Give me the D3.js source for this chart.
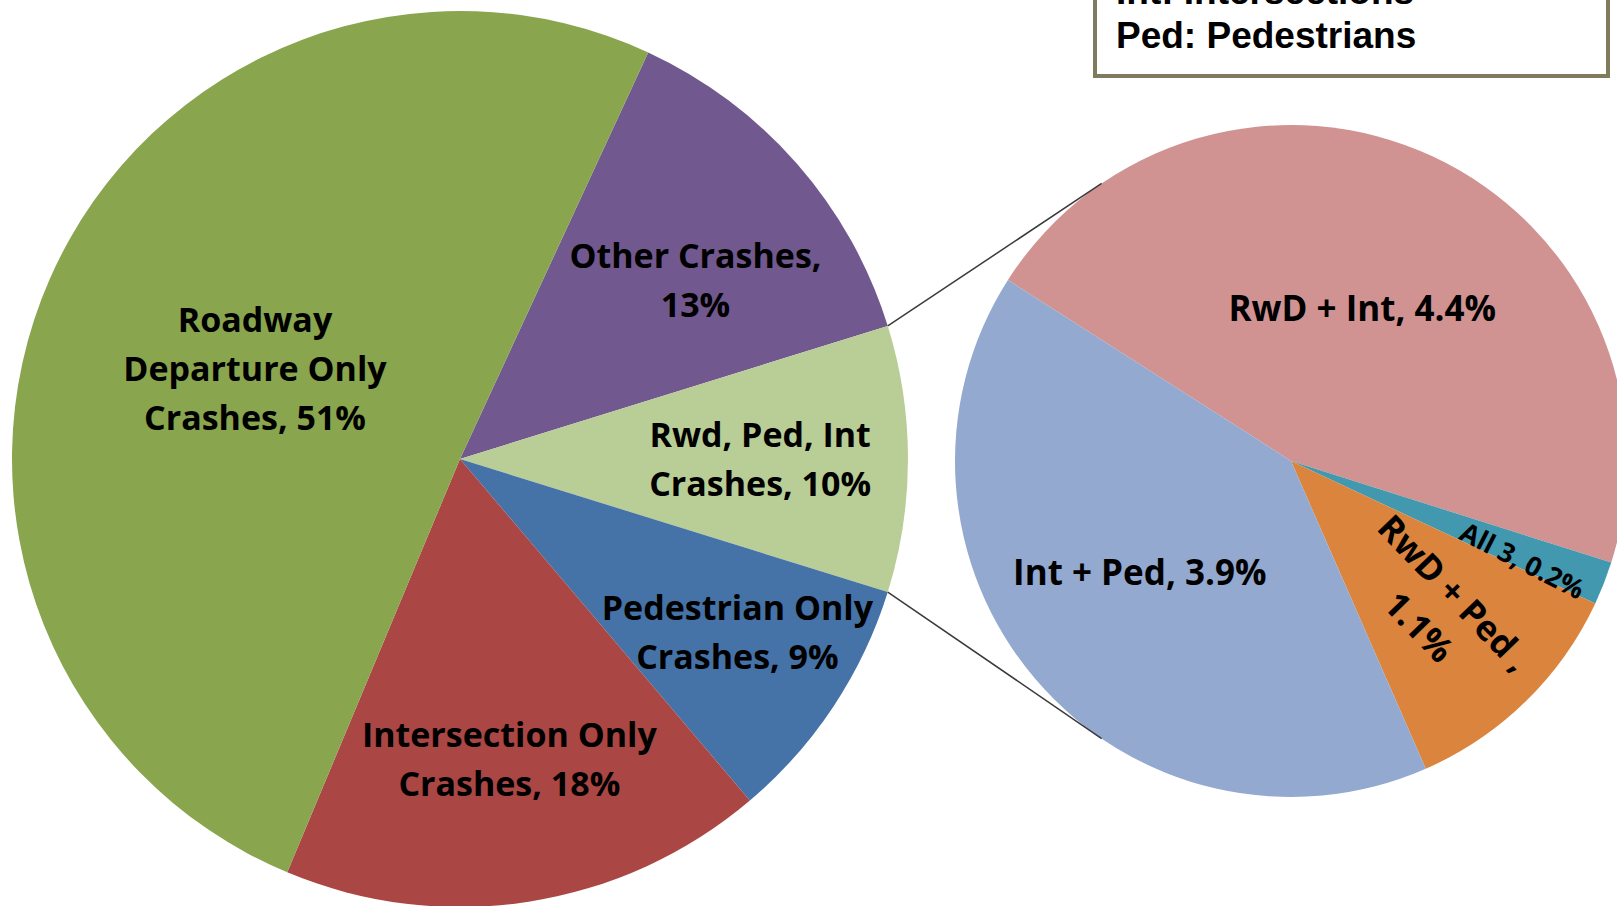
<!DOCTYPE html>
<html>
<head>
<meta charset="utf-8">
<script src="https://cdn.jsdelivr.net/npm/d3@7"></script>
<style>
  html, body { margin: 0; padding: 0; background: #fff; overflow: hidden; }
  .lbl { font-family: "Open Sans", Lato, sans-serif; font-weight: bold; fill: #000; }
  .key { font-family: "Liberation Sans", Arial, sans-serif; font-weight: bold; fill: #000; }
</style>
</head>
<body>
<svg id="chart" width="1617" height="906"></svg>
<script>
// main pie, clockwise from the purple slice
var mainLabels = [
    ["Other Crashes,", ""],
    ["Rwd, Ped, Int", "Crashes,"],
    ["Pedestrian Only", "Crashes,"],
    ["Intersection Only", "Crashes,"],
    ["Roadway", "Departure Only", "Crashes,"]
];
var mainValues = [13.3, 9.6, 9.0, 17.5, 50.6];
var mainColors = ["#71588F", "#B9CD96", "#4572A7", "#AA4643", "#89A54E"];

// secondary pie (breakdown of the Rwd, Ped, Int slice)
var subLabels = [["RwD + Int,"], ["All 3,"], ["RwD + Ped ,", ""], ["Int + Ped,"]];
var subValues = [4.4, 0.2, 1.1, 3.9];
var subColors = ["#D19392", "#4198AF", "#DB843D", "#93A9CF"];

var keyLines = ["RwD: Roadway Departure", "Int: Intersections", "Ped: Pedestrians"];

var svg = d3.select("#chart");
var rad = Math.PI / 180;

var mainC = { x: 460, y: 459, r: 448 };
var subC = { x: 1291, y: 461, r: 336 };

// put the split slice centred on 3 o'clock
var mainTotal = d3.sum(mainValues);
var mainStart = Math.PI / 2 - (mainValues[0] + mainValues[1] / 2) / mainTotal * 2 * Math.PI;

var mainPie = d3.pie().sort(null).startAngle(mainStart).endAngle(mainStart + 2 * Math.PI);
var subPie = d3.pie().sort(null).startAngle(-57.4 * rad).endAngle(-57.4 * rad + 2 * Math.PI);

var mainArcs = mainPie(mainValues);
var subArcs = subPie(subValues);

var mainArc = d3.arc().innerRadius(0).outerRadius(mainC.r);
var subArc = d3.arc().innerRadius(0).outerRadius(subC.r);

var gMain = svg.append("g").attr("transform", "translate(" + mainC.x + "," + mainC.y + ")");
var gSub = svg.append("g").attr("transform", "translate(" + subC.x + "," + subC.y + ")");

gMain.selectAll("path").data(mainArcs).enter().append("path")
    .attr("d", mainArc)
    .attr("fill", function (d, i) { return mainColors[i]; });

gSub.selectAll("path").data(subArcs).enter().append("path")
    .attr("d", subArc)
    .attr("fill", function (d, i) { return subColors[i]; });

// connector lines
var split = mainArcs[1];
var conAng = 34.3 * rad;
function pt(c, a, r) { return [c.x + Math.sin(a) * r, c.y - Math.cos(a) * r]; }
var lines = [
    [pt(mainC, split.startAngle, mainC.r), pt(subC, -conAng, subC.r)],
    [pt(mainC, split.endAngle, mainC.r), pt(subC, Math.PI + conAng, subC.r)]
];
svg.selectAll("line.con").data(lines).enter().append("line")
    .attr("class", "con")
    .attr("x1", function (d) { return d[0][0]; })
    .attr("y1", function (d) { return d[0][1]; })
    .attr("x2", function (d) { return d[1][0]; })
    .attr("y2", function (d) { return d[1][1]; })
    .attr("stroke", "#3a3a3a")
    .attr("stroke-width", 1.5);

// label spot: point at radius r, at the slice's mid angle nudged by shift degrees
function spot(d, r, shift) {
    var a = (d.startAngle + d.endAngle) / 2 + shift * rad;
    return [Math.sin(a) * r, -Math.cos(a) * r];
}

var lineH = 49;
var mainLabelR = [0.66, 0.67, 0.73, 0.68, 0.5];
var mainShift = [4, 0, -1.5, -0.5, 0];
mainArcs.forEach(function (d, i) {
    var c = spot(d, mainLabelR[i] * mainC.r, mainShift[i]);
    var pct = Math.round(d.value) + "%";
    var ls = mainLabels[i].slice();
    var last = ls.length - 1;
    ls[last] = (ls[last] ? ls[last] + " " : "") + pct;
    var t = gMain.append("text").attr("class", "lbl")
        .attr("text-anchor", "middle")
        .attr("font-size", 34)
        .attr("transform", "translate(" + c[0] + "," + c[1] + ")");
    ls.forEach(function (s, j) {
        t.append("tspan").attr("x", 0)
            .attr("y", (j - (ls.length - 1) / 2) * lineH + 12)
            .text(s);
    });
});

var subLabelR = [0.5, 0.75, 0.62, 0.56];
var subShift = [0, 2, 0, 4];
var subRotate = [0, 27, 46, 0];
var subSize = [35, 27, 35, 35];
subArcs.forEach(function (d, i) {
    var c = spot(d, subLabelR[i] * subC.r, subShift[i]);
    var pct = d.value.toFixed(1) + "%";
    var ls = subLabels[i].slice();
    var last = ls.length - 1;
    ls[last] = (ls[last] ? ls[last] + " " : "") + pct;
    var t = gSub.append("text").attr("class", "lbl")
        .attr("text-anchor", "middle")
        .attr("font-size", subSize[i])
        .attr("transform", "translate(" + c[0] + "," + c[1] + ") rotate(" + subRotate[i] + ")");
    ls.forEach(function (s, j) {
        t.append("tspan").attr("x", 0)
            .attr("y", (j - (ls.length - 1) / 2) * lineH + subSize[i] * 0.35)
            .text(s);
    });
});

// abbreviation key, top right (partly off the page)
var key = svg.append("g");
key.append("rect")
    .attr("x", 1095).attr("y", -20)
    .attr("width", 513).attr("height", 96)
    .attr("fill", "#fff")
    .attr("stroke", "#7f7b5c")
    .attr("stroke-width", 4);
key.selectAll("text").data(keyLines).enter().append("text")
    .attr("class", "key")
    .attr("x", 1116)
    .attr("y", function (d, i) { return 48 - (keyLines.length - 1 - i) * 44; })
    .attr("font-size", 37)
    .text(function (d) { return d; });
</script>
</body>
</html>
